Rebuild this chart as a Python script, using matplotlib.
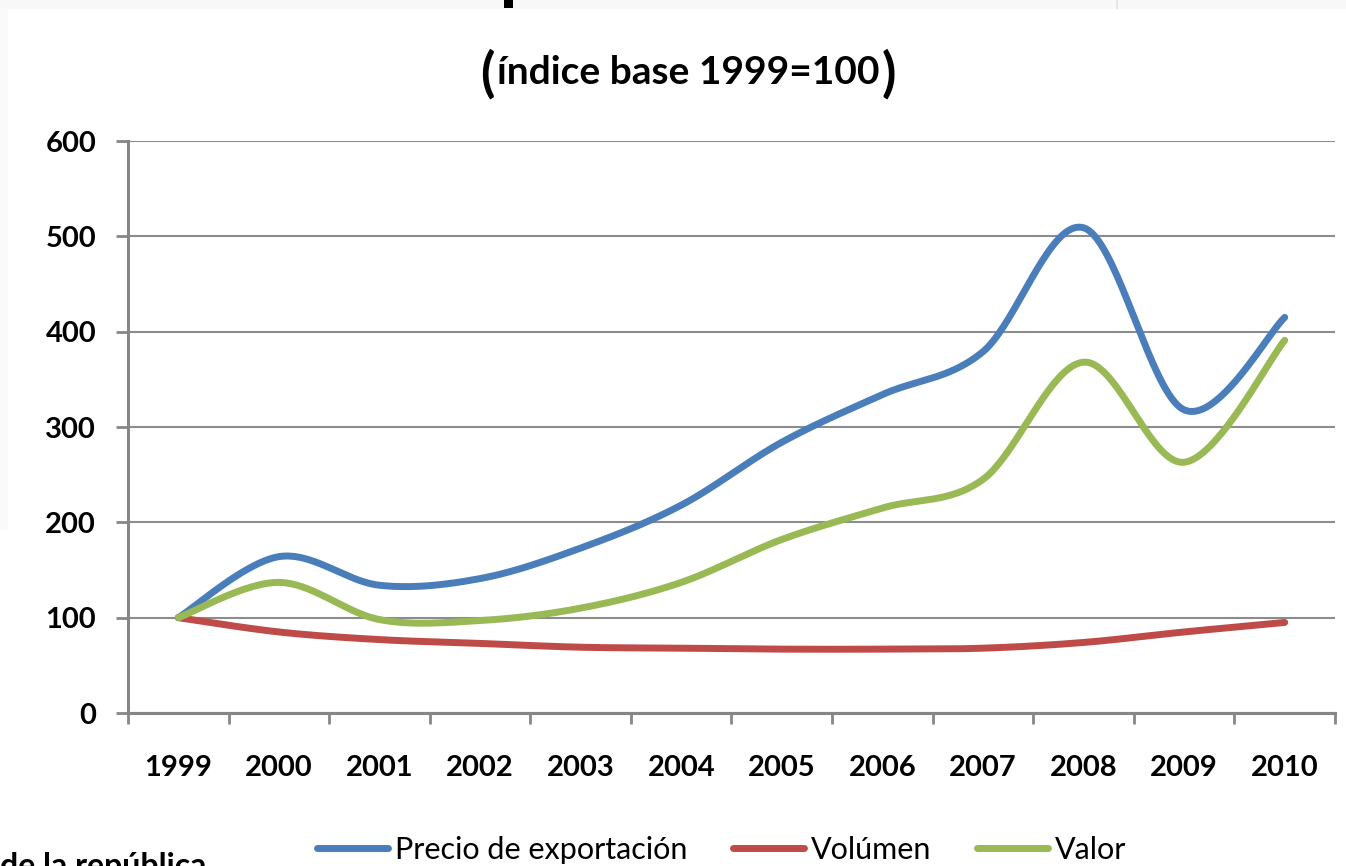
import numpy as np
import matplotlib
matplotlib.use('Agg')
import matplotlib.pyplot as plt
from matplotlib.patches import Rectangle
from matplotlib.lines import Line2D

plt.rcParams['font.family'] = ['Lato', 'DejaVu Sans']

# datos (índice base 1999=100)
anios = ['1999', '2000', '2001', '2002', '2003', '2004', '2005', '2006', '2007', '2008', '2009', '2010']
precio = [100, 164, 134, 141, 173, 218, 284, 334, 379, 509, 318, 415]
volumen = [100, 85, 77, 73, 69, 68, 67, 67, 68, 74, 85, 95]
valor = [100, 137, 98, 97, 110, 137, 182, 215, 245, 368, 263, 391]

series = [
    ('Precio de exportación', precio, '#4a7ebb'),
    ('Volúmen', volumen, '#be4b48'),
    ('Valor', valor, '#98b954'),
]


def suavizar(y, n=40):
    # curva suavizada tipo Excel (Bezier con puntos de control a 1/6)
    x = np.arange(len(y), dtype=float)
    y = np.asarray(y, dtype=float)
    pts = np.column_stack([x, y])
    ext = np.vstack([pts[0], pts, pts[-1]])
    t = np.linspace(0, 1, n)[:, None]
    out = []
    for i in range(len(pts) - 1):
        p0 = ext[i + 1]
        p3 = ext[i + 2]
        c1 = p0 + (ext[i + 2] - ext[i]) / 6
        c2 = p3 - (ext[i + 3] - ext[i + 1]) / 6
        seg = ((1 - t) ** 3) * p0 + 3 * ((1 - t) ** 2) * t * c1 + 3 * (1 - t) * t ** 2 * c2 + t ** 3 * p3
        out.append(seg if i == 0 else seg[1:])
    out = np.vstack(out)
    return out[:, 0], out[:, 1]


fig = plt.figure(figsize=(13.46, 8.66), dpi=100)
fig.patch.set_facecolor('white')

# restos de la captura
fig.patches.append(Rectangle((0, 1 - 9 / 866), 1, 9 / 866, transform=fig.transFigure,
                             facecolor='#f8f8f8', edgecolor='none', zorder=0))
fig.patches.append(Rectangle((0, 1 - 530 / 866), 8 / 1346, 521 / 866, transform=fig.transFigure,
                             facecolor='#fafafa', edgecolor='none', zorder=0))
fig.patches.append(Rectangle((504 / 1346, 1 - 8 / 866), 9 / 1346, 8 / 866, transform=fig.transFigure,
                             facecolor='black', edgecolor='none', zorder=1))
fig.patches.append(Rectangle((1116 / 1346, 1 - 9 / 866), 2 / 1346, 9 / 866, transform=fig.transFigure,
                             facecolor='#e6e6e6', edgecolor='none', zorder=1))

ax = fig.add_axes([128 / 1346, 1 - 713 / 866, 1207 / 1346, 572 / 866])
ax.set_facecolor('none')

for nombre, vals, color in series:
    xs, ys = suavizar(vals)
    ax.plot(xs, ys, color=color, lw=5, solid_capstyle='round', label=nombre, zorder=3)

ax.set_xlim(-0.5, len(anios) - 0.5)
ax.set_ylim(0, 600)
ax.set_yticks(range(0, 601, 100))
ax.set_xticks(range(len(anios)))
ax.set_xticklabels(anios)
ax.set_xticks(np.arange(-0.5, len(anios), 1), minor=True)

ax.grid(axis='y', color='#8c8c8c', lw=1.5, zorder=1)
ax.set_axisbelow(True)
for s in ['top', 'right']:
    ax.spines[s].set_visible(False)
for s in ['left', 'bottom']:
    ax.spines[s].set_color('#868686')
    ax.spines[s].set_linewidth(2.2)

ax.tick_params(axis='y', direction='out', length=9, width=2, color='#868686', pad=14,
               labelsize=21)
ax.tick_params(axis='x', which='major', length=0, pad=30, labelsize=21)
ax.tick_params(axis='x', which='minor', direction='out', length=8, width=2, color='#868686')
for lbl in ax.get_xticklabels() + ax.get_yticklabels():
    lbl.set_fontweight('bold')

# título con paréntesis más altos
tit = fig.text(688 / 1346, 1 - 73 / 866, 'índice base 1999=100', ha='center', va='center',
               fontsize=28, fontweight='bold')
fig.canvas.draw()
bb = tit.get_window_extent().transformed(fig.transFigure.inverted())
fig.text(bb.x0 - 0.002, 1 - 74 / 866, '(', ha='right', va='center', fontsize=38, fontweight='bold')
fig.text(bb.x1 + 0.002, 1 - 74 / 866, ')', ha='left', va='center', fontsize=38, fontweight='bold')

handles = [Line2D([], [], color=c, lw=5, solid_capstyle='round') for _, _, c in series]
fig.legend(handles, [n for n, _, _ in series], loc='center', ncol=3, frameon=False,
           bbox_to_anchor=(722 / 1346, 1 - 850 / 866), fontsize=22,
           handlelength=2.3, handletextpad=0.25, columnspacing=1.5)

fig.text(0.0, 1 - 852 / 866, 'de la república', ha='left', va='top', fontsize=23, fontweight='bold')

fig.savefig('out.png', dpi=100)
